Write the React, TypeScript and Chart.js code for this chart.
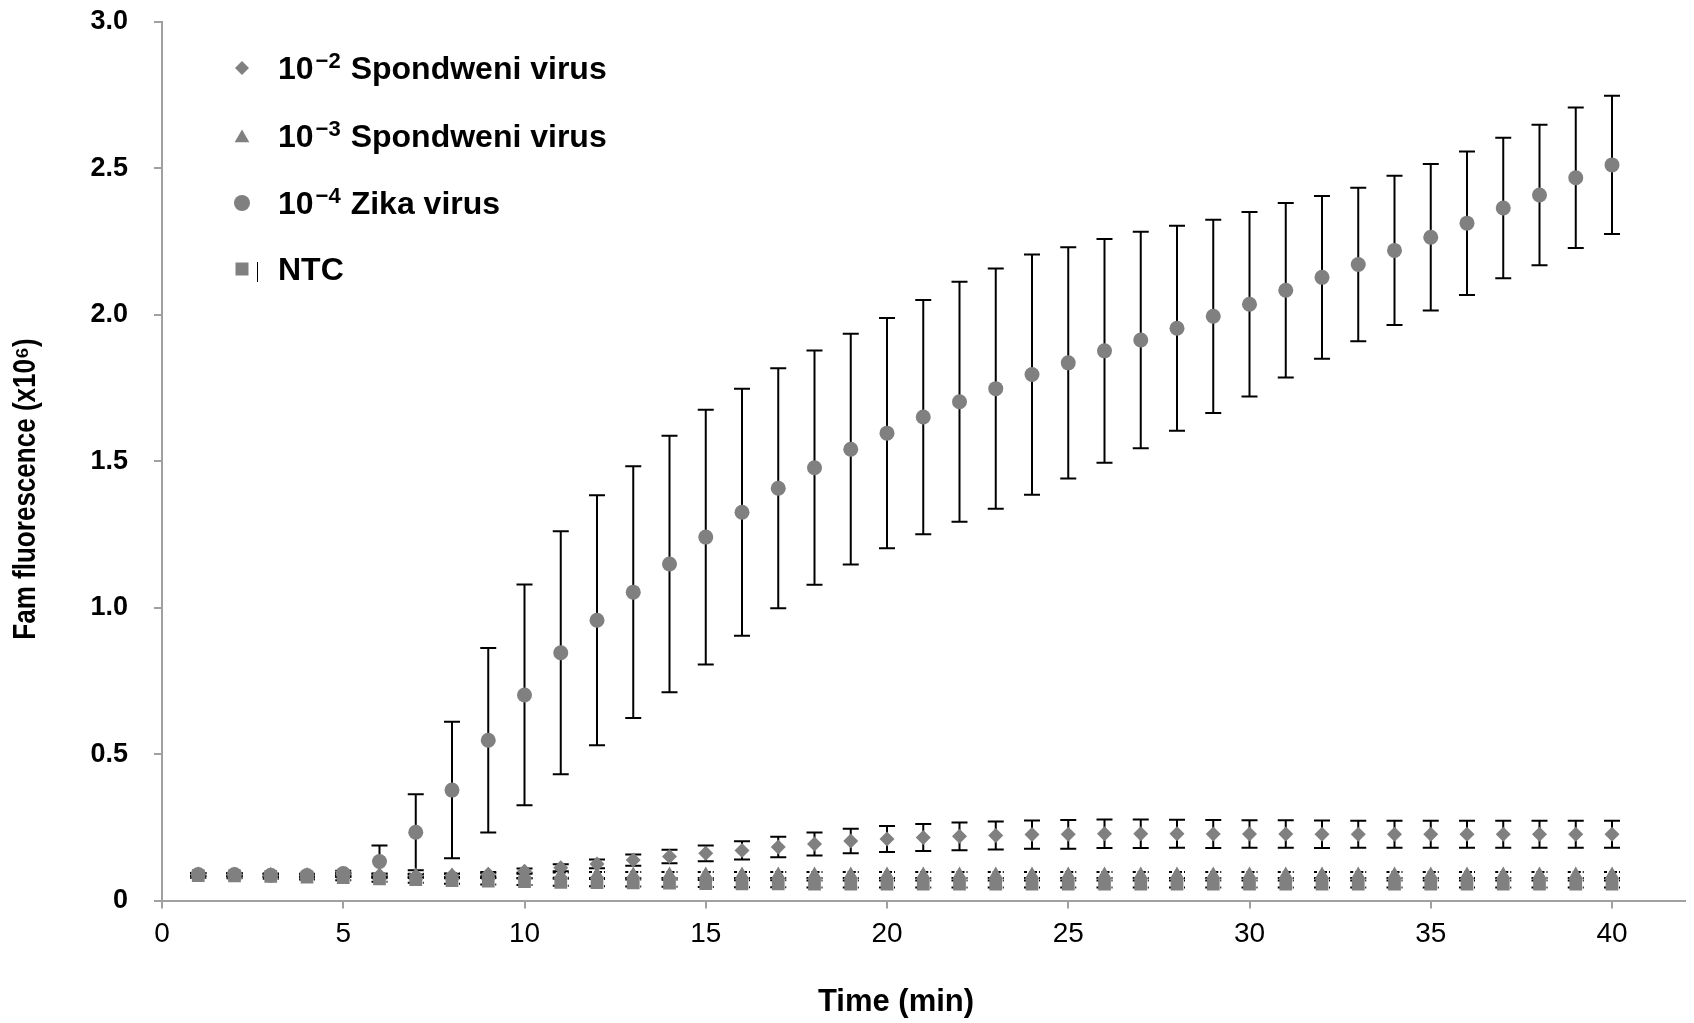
import React, { useEffect, useRef } from 'react';
import { Chart, registerables } from 'chart.js';

Chart.register(...registerables);

// ---------- data ----------
const TIME = [1, 2, 3, 4, 5, 6, 7, 8, 9, 10, 11, 12, 13, 14, 15, 16, 17, 18, 19, 20,
  21, 22, 23, 24, 25, 26, 27, 28, 29, 30, 31, 32, 33, 34, 35, 36, 37, 38, 39, 40];

const SPOND2 = [0.088, 0.088, 0.086, 0.085, 0.088, 0.086, 0.084, 0.085, 0.090, 0.100,
  0.112, 0.125, 0.138, 0.150, 0.161, 0.171, 0.183, 0.193, 0.203, 0.210,
  0.215, 0.219, 0.222, 0.225, 0.226, 0.228, 0.228, 0.228, 0.227, 0.227,
  0.227, 0.226, 0.226, 0.226, 0.226, 0.226, 0.226, 0.226, 0.226, 0.226];
const SPOND2_ERR = [0.004, 0.004, 0.004, 0.004, 0.005, 0.005, 0.005, 0.006, 0.007, 0.009,
  0.012, 0.015, 0.019, 0.023, 0.027, 0.031, 0.035, 0.039, 0.042, 0.044,
  0.046, 0.047, 0.048, 0.048, 0.049, 0.049, 0.049, 0.048, 0.048, 0.047,
  0.047, 0.047, 0.046, 0.046, 0.046, 0.046, 0.046, 0.046, 0.046, 0.046];

const SPOND3 = [0.088, 0.087, 0.086, 0.085, 0.087, 0.085, 0.084, 0.084, 0.085, 0.086,
  0.087, 0.087, 0.087, 0.087, 0.087, 0.087, 0.087, 0.087, 0.087, 0.087,
  0.087, 0.087, 0.087, 0.087, 0.087, 0.087, 0.087, 0.087, 0.087, 0.087,
  0.087, 0.087, 0.087, 0.087, 0.087, 0.087, 0.087, 0.087, 0.087, 0.087];
const SPOND3_ERR = [0.006, 0.006, 0.006, 0.006, 0.007, 0.007, 0.007, 0.008, 0.008, 0.009,
  0.009, 0.010, 0.010, 0.010, 0.010, 0.010, 0.010, 0.010, 0.010, 0.010,
  0.010, 0.010, 0.010, 0.010, 0.010, 0.010, 0.010, 0.010, 0.010, 0.010,
  0.010, 0.010, 0.010, 0.010, 0.010, 0.010, 0.010, 0.010, 0.010, 0.010];

const ZIKA = [0.089, 0.089, 0.086, 0.085, 0.092, 0.133, 0.233, 0.377, 0.547, 0.702,
  0.846, 0.957, 1.053, 1.149, 1.241, 1.326, 1.408, 1.478, 1.541, 1.596,
  1.651, 1.703, 1.748, 1.796, 1.836, 1.877, 1.914, 1.954, 1.995, 2.036,
  2.084, 2.128, 2.172, 2.220, 2.265, 2.313, 2.365, 2.409, 2.468, 2.512];
const ZIKA_ERR = [0.005, 0.005, 0.005, 0.005, 0.010, 0.055, 0.130, 0.233, 0.315, 0.377,
  0.415, 0.427, 0.430, 0.438, 0.435, 0.422, 0.410, 0.400, 0.394, 0.393,
  0.400, 0.410, 0.410, 0.410, 0.395, 0.382, 0.370, 0.350, 0.330, 0.315,
  0.298, 0.278, 0.262, 0.255, 0.250, 0.245, 0.240, 0.240, 0.240, 0.236];

const NTC = [0.085, 0.084, 0.082, 0.080, 0.078, 0.074, 0.071, 0.068, 0.066, 0.064,
  0.062, 0.061, 0.060, 0.059, 0.058, 0.057, 0.057, 0.056, 0.056, 0.056,
  0.056, 0.056, 0.056, 0.056, 0.056, 0.056, 0.056, 0.056, 0.056, 0.056,
  0.056, 0.056, 0.056, 0.056, 0.056, 0.056, 0.056, 0.056, 0.056, 0.056];
const NTC_ERR = [0.008, 0.008, 0.008, 0.008, 0.009, 0.010, 0.010, 0.011, 0.011, 0.011,
  0.012, 0.012, 0.012, 0.012, 0.012, 0.012, 0.012, 0.012, 0.012, 0.012,
  0.012, 0.012, 0.012, 0.012, 0.012, 0.012, 0.012, 0.012, 0.012, 0.012,
  0.012, 0.012, 0.012, 0.012, 0.012, 0.012, 0.012, 0.012, 0.012, 0.012];

const SERIES_EXP = ['2', '3', '4', ''];
const SERIES_NAMES = ['Spondweni virus', 'Spondweni virus', 'Zika virus', 'NTC'];
const Y_TICKS = [0, 0.5, 1.0, 1.5, 2.0, 2.5, 3.0];
const X_TITLE = 'Time (min)';
const Y_TITLE = 'Fam fluorescence (x10\u2076)';

const GRAY = '#808080';
const AXIS = '#a0a0a0';
const FONT = "'Liberation Sans', Arial, sans-serif";

const ERRORS = [SPOND2_ERR, SPOND3_ERR, ZIKA_ERR, NTC_ERR];
const ERR_DASH: number[][] = [[], [3, 2], [], [3, 2]];
const STYLES = ['rectRot', 'triangle', 'circle', 'rect'];
const RADII = [7.5, 8.5, 7.5, 9];

const toPts = (vals: number[]) => TIME.map((t, i) => ({ x: t, y: vals[i] }));

const errorBarPlugin = {
  id: 'errorBars',
  beforeDatasetsDraw(chart: any) {
    const { ctx } = chart;
    const y = chart.scales.y;
    chart.data.datasets.forEach((ds: any, i: number) => {
      const meta = chart.getDatasetMeta(i);
      const errs = ERRORS[i];
      ctx.save();
      ctx.strokeStyle = '#000';
      ctx.lineWidth = 2;
      ctx.setLineDash(ERR_DASH[i]);
      meta.data.forEach((pt: any, j: number) => {
        const v = ds.data[j].y;
        const e = errs[j];
        const yt = y.getPixelForValue(v + e);
        const yb = y.getPixelForValue(v - e);
        const x = pt.x;
        ctx.beginPath();
        ctx.moveTo(x, yt); ctx.lineTo(x, yb);
        ctx.moveTo(x - 8, yt); ctx.lineTo(x + 8, yt);
        ctx.moveTo(x - 8, yb); ctx.lineTo(x + 8, yb);
        ctx.stroke();
      });
      ctx.restore();
    });
  },
};

function drawMarker(ctx: CanvasRenderingContext2D, style: string, x: number, y: number) {
  ctx.beginPath();
  if (style === 'rectRot') {
    const r = 7;
    ctx.moveTo(x - r, y); ctx.lineTo(x, y - r); ctx.lineTo(x + r, y); ctx.lineTo(x, y + r);
    ctx.closePath();
  } else if (style === 'triangle') {
    const r = 8.5;
    ctx.moveTo(x, y - r);
    ctx.lineTo(x + r * 0.866, y + r * 0.5);
    ctx.lineTo(x - r * 0.866, y + r * 0.5);
    ctx.closePath();
  } else if (style === 'circle') {
    ctx.arc(x, y, 8, 0, Math.PI * 2);
  } else {
    ctx.rect(x - 6.5, y - 6.5, 13, 13);
  }
  ctx.fill();
}

const legendPlugin = {
  id: 'customLegend',
  afterDraw(chart: any) {
    const { ctx } = chart;
    const rows = [68, 136, 203, 269];
    ctx.save();
    rows.forEach((cy, i) => {
      ctx.fillStyle = GRAY;
      drawMarker(ctx, STYLES[i], 242, i === 1 ? cy + 2 : cy);
      if (i === 3) {
        ctx.strokeStyle = '#000';
        ctx.lineWidth = 1;
        ctx.beginPath();
        ctx.moveTo(257.5, 262); ctx.lineTo(257.5, 282);
        ctx.stroke();
      }
      ctx.fillStyle = '#000';
      ctx.textBaseline = 'alphabetic';
      ctx.textAlign = 'left';
      const base = cy + 11;
      let x = 278;
      if (SERIES_EXP[i]) {
        ctx.font = `bold 32px ${FONT}`;
        ctx.fillText('10', x, base);
        x += ctx.measureText('10').width + 2;
        ctx.font = `bold 22px ${FONT}`;
        const sup = '\u2212' + SERIES_EXP[i];
        ctx.fillText(sup, x, base - 11);
        x += ctx.measureText(sup).width + 10;
      }
      ctx.font = `bold 32px ${FONT}`;
      ctx.fillText(SERIES_NAMES[i], x, base);
    });
    ctx.restore();
  },
};

const titlePlugin = {
  id: 'axisTitles',
  afterDraw(chart: any) {
    const { ctx } = chart;
    ctx.save();
    ctx.fillStyle = '#000';
    ctx.textAlign = 'center';
    ctx.textBaseline = 'middle';
    ctx.font = `bold 31px ${FONT}`;
    ctx.fillText(X_TITLE, 896, 1002);
    ctx.translate(26, 489);
    ctx.rotate(-Math.PI / 2);
    ctx.scale(0.84, 1);
    ctx.font = `bold 31px ${FONT}`;
    ctx.fillText(Y_TITLE, 0, 0);
    ctx.restore();
  },
};

export default function App() {
  const ref = useRef<HTMLCanvasElement>(null);
  useEffect(() => {
    document.body.style.margin = '0';
    const datasets = [SPOND2, SPOND3, ZIKA, NTC].map((vals, i) => ({
      label: SERIES_NAMES[i],
      data: toPts(vals),
      showLine: false,
      pointStyle: STYLES[i],
      pointRadius: RADII[i],
      pointHoverRadius: RADII[i],
      pointBackgroundColor: GRAY,
      pointBorderColor: GRAY,
      pointBorderWidth: 0,
      backgroundColor: GRAY,
      borderColor: GRAY,
      order: 3 - i,
    }));
    const chart = new Chart(ref.current as HTMLCanvasElement, {
      type: 'scatter',
      data: { datasets } as any,
      options: {
        animation: false,
        responsive: false,
        devicePixelRatio: 1,
        layout: { padding: { top: 22, right: 9.5, bottom: 0, left: 0 } },
        plugins: {
          legend: { display: false },
          tooltip: { enabled: false },
        },
        scales: {
          x: {
            type: 'linear',
            min: 0,
            max: 42,
            border: { display: true, color: AXIS, width: 2 },
            grid: { drawOnChartArea: false, drawTicks: true, tickLength: 8, color: AXIS, lineWidth: 2 },
            ticks: {
              stepSize: 5,
              includeBounds: false,
              padding: 9,
              color: '#000',
              font: { family: FONT, size: 28 },
              maxRotation: 0,
            },
            title: { display: false, text: X_TITLE },
            afterFit: (scale: any) => {
              scale.height = 122.5;
              scale.paddingLeft = 0;
              scale.paddingRight = 0;
            },
          },
          y: {
            type: 'linear',
            min: 0,
            max: 3,
            border: { display: true, color: AXIS, width: 2 },
            grid: { drawOnChartArea: false, drawTicks: true, tickLength: 8, color: AXIS, lineWidth: 2 },
            afterBuildTicks: (scale: any) => { scale.ticks = Y_TICKS.map((v) => ({ value: v })); },
            ticks: {
              padding: 26,
              color: '#000',
              font: { family: FONT, size: 27, weight: 'bold' },
              callback: (v: any) => (Number(v) === 0 ? '0' : Number(v).toFixed(1)),
            },
            title: { display: false, text: Y_TITLE },
            afterFit: (scale: any) => {
              scale.width = 162;
              scale.paddingTop = 0;
              scale.paddingBottom = 0;
            },
          },
        },
      } as any,
      plugins: [errorBarPlugin, legendPlugin, titlePlugin],
    });
    return () => chart.destroy();
  }, []);
  return (
    <div style={{ width: 1694, height: 1023, background: '#fff' }}>
      <canvas ref={ref} width={1694} height={1023} style={{ display: 'block' }} />
    </div>
  );
}
